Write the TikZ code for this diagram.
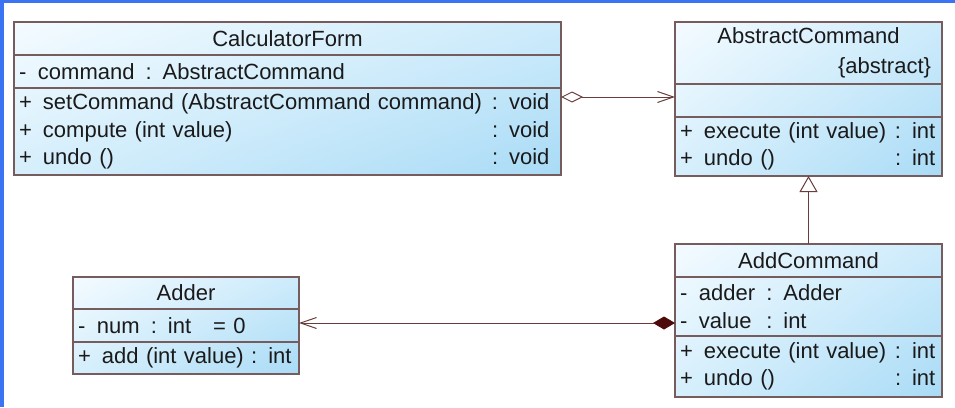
\documentclass[tikz,border=0pt]{standalone}
\usepackage{fontspec}
\setmainfont[WordSpace=0.85]{Liberation Sans}
\usetikzlibrary{arrows.meta,positioning,backgrounds,shadings}
\definecolor{Frame}{HTML}{3A74F2}
\definecolor{Edge}{HTML}{765C5C}
\definecolor{Wire}{HTML}{6A3C3C}
\definecolor{Maroon}{HTML}{4E0A0A}
\definecolor{Ink}{HTML}{1A1A1A}
\definecolor{PaleA}{HTML}{F4FBFF}
\definecolor{PaleB}{HTML}{CDEBFB}
\definecolor{PaleC}{HTML}{D6EFFC}
\definecolor{PaleD}{HTML}{A9DBF6}
\newcommand\attrline[1]{\makebox[19pt][l]{-}#1}
\newcommand\operline[1]{\makebox[24pt][l]{+}#1}
\newcommand\rettype[2]{\hfill\makebox[#1][l]{#2}}

\begin{document}
\begin{tikzpicture}[
  x=1pt,y=1pt,
  part/.style={draw=Edge,line width=1.1pt,outer sep=0pt,inner xsep=5pt,inner ysep=2pt,text=Ink,font=\fontsize{22}{27.5}\selectfont},
  classhead/.style={part,align=center},
  classpart/.style={part,align=left},
  wideform/.style={text width=537pt},
  midform/.style={text width=257pt},
  smallform/.style={text width=216pt},
  shadebox/.style={upper left=PaleA,upper right=PaleB,lower left=PaleC,lower right=PaleD},
  link/.style={draw=Wire,line width=1pt}
]
\useasboundingbox (0,0) rectangle (955,-407);
\fill[Frame] (0,0) rectangle (955,-2.5);
\fill[Frame] (0,0) rectangle (3.5,-407);

\node[classhead,wideform,minimum height=33pt] (calcHead) at (287.5,-38.5) {CalculatorForm};
\node[classpart,wideform,minimum height=33pt,below=0pt of calcHead] (calcAttr) {\attrline{command~\,: AbstractCommand}};
\node[classpart,wideform,minimum height=87pt,below=0pt of calcAttr] (calcOps) {\operline{setCommand (AbstractCommand command)}\rettype{64pt}{: void}\\
\operline{compute (int value)}\rettype{64pt}{: void}\\
\operline{undo ()}\rettype{64pt}{: void}};

\node[classhead,midform,minimum height=62pt] (absHead) at (808.5,-53) {AbstractCommand\\[3pt]\hspace*{0pt plus 1fill}\{abstract\}\hspace*{6pt}\mbox{}};
\node[classpart,midform,minimum height=33pt,below=0pt of absHead] (absAttr) {};
\node[classpart,midform,minimum height=59pt,below=0pt of absAttr] (absOps) {\operline{execute (int value)}\rettype{42pt}{: int}\\
\operline{undo ()}\rettype{42pt}{: int}};

\node[classhead,midform,minimum height=33pt] (addHead) at (808.5,-260.5) {AddCommand};
\node[classpart,midform,minimum height=59pt,below=0pt of addHead] (addAttr) {\attrline{adder~\,: Adder}\\
\attrline{value~~: int}};
\node[classpart,midform,minimum height=61pt,below=0pt of addAttr] (addOps) {\operline{execute (int value)}\rettype{42pt}{: int}\\
\operline{undo ()}\rettype{42pt}{: int}};

\node[classhead,smallform,minimum height=32pt] (adderHead) at (186,-293) {Adder};
\node[classpart,smallform,minimum height=33pt,below=0pt of adderHead] (adderAttr) {\attrline{num~\,: int~~~= 0}};
\node[classpart,smallform,minimum height=32pt,below=0pt of adderAttr] (adderOps) {\operline{add (int value)~: int}};

\begin{scope}[on background layer]
\foreach \hd/\ft in {calcHead/calcOps,absHead/absOps,addHead/addOps,adderHead/adderOps}
  \shade[shadebox] (\hd.north west) rectangle (\ft.south east);
\end{scope}

\draw[link,{Diamond[open,length=22pt,width=11pt]}-{Straight Barb[length=16pt,width=11pt]}] ([yshift=3.5pt]absAttr.west -| calcOps.east) -- ([yshift=3.5pt]absAttr.west);
\draw[link,-{Triangle[open,length=16pt,width=18pt]}] (addHead.north) -- (absOps.south);
\draw[link,{Diamond[length=22pt,width=13pt,color=Maroon]}-{Straight Barb[length=16pt,width=11pt]}] ([yshift=2.5pt]adderAttr.east -| addAttr.west) -- ([yshift=2.5pt]adderAttr.east);
\end{tikzpicture}
\end{document}
